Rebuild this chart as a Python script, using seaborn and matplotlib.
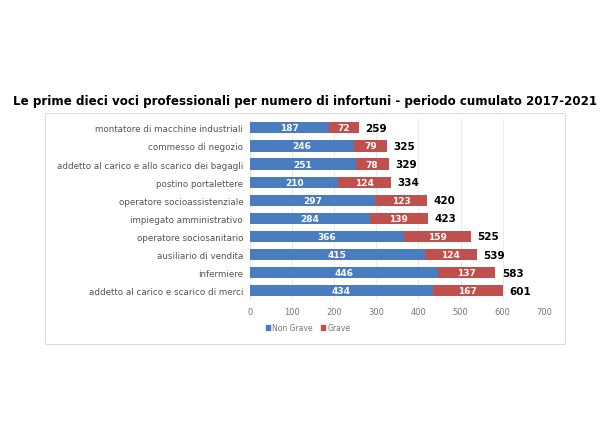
import matplotlib
matplotlib.use("Agg")
import matplotlib.pyplot as plt
import matplotlib.patches as mpatches
import pandas as pd
import seaborn as sns

categories = ["montatore di macchine industriali", "commesso di negozio",
              "addetto al carico e allo scarico dei bagagli", "postino portalettere",
              "operatore socioassistenziale", "impiegato amministrativo",
              "operatore sociosanitario", "ausiliario di vendita", "infermiere",
              "addetto al carico e scarico di merci"]
non_grave = [187, 246, 251, 210, 297, 284, 366, 415, 446, 434]
grave = [72, 79, 78, 124, 123, 139, 159, 124, 137, 167]

df = pd.DataFrame({"cat": categories, "non_grave": non_grave, "grave": grave})
df["totale"] = df["non_grave"] + df["grave"]

blue = "#4a7cc0"
red = "#c0504d"

fig = plt.figure(figsize=(6.1, 4.31), dpi=100)
fig.text(0.5, 0.765, "Le prime dieci voci professionali per numero di infortuni - periodo cumulato 2017-2021",
         ha="center", va="center", fontsize=8.6, fontweight="bold")
fig.patches.append(mpatches.Rectangle((0.074, 0.2), 0.852, 0.535, transform=fig.transFigure,
                                      fill=False, edgecolor="#dddddd", lw=0.8))
ax = fig.add_axes([0.41, 0.302, 0.483, 0.42])

sns.barplot(data=df, y="cat", x="totale", color=red, saturation=1, width=0.62, ax=ax, zorder=2)
sns.barplot(data=df, y="cat", x="non_grave", color=blue, saturation=1, width=0.62, ax=ax, zorder=3)

for i, r in df.iterrows():
    ax.text(r["non_grave"] / 2, i, str(r["non_grave"]), ha="center", va="center",
            color="white", fontsize=6.5, fontweight="bold", zorder=4)
    ax.text(r["non_grave"] + r["grave"] / 2, i, str(r["grave"]), ha="center", va="center",
            color="white", fontsize=6.5, fontweight="bold", zorder=4)
    ax.text(r["totale"] + 15, i, str(r["totale"]), ha="left", va="center",
            color="black", fontsize=7.5, fontweight="bold", zorder=4)

ax.set_xlim(0, 700)
ax.set_xticks(range(0, 701, 100))
ax.set_ylim(9.5, -0.5)
ax.set_xlabel("")
ax.set_ylabel("")
ax.grid(axis="x", color="#e6e6e6", lw=0.6, zorder=0)
for s in ax.spines.values():
    s.set_visible(False)
ax.tick_params(length=0, labelsize=6, colors="#777777")
ax.tick_params(axis="y", labelsize=6.3, colors="#555555", pad=5)
ax.tick_params(axis="x", pad=5)

handles = [mpatches.Patch(color=blue, label="Non Grave"), mpatches.Patch(color=red, label="Grave")]
leg = fig.legend(handles=handles, loc="center", bbox_to_anchor=(0.505, 0.237), ncol=2, frameon=False,
                 fontsize=5.5, handlelength=0.6, handleheight=0.6, handletextpad=0.3, columnspacing=1.0)
for t in leg.get_texts():
    t.set_color("#777777")

fig.savefig("out.png", dpi=100)
